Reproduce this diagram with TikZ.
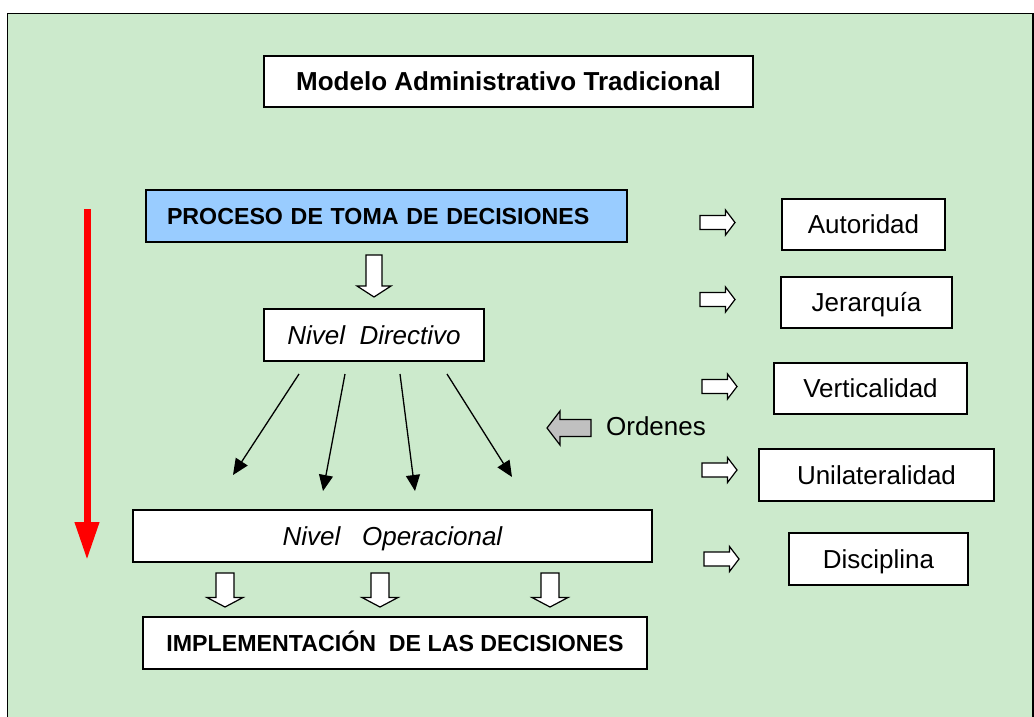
\documentclass[tikz,border=0pt]{standalone}
\usepackage{fontspec}
\setmainfont{Liberation Sans}
\usetikzlibrary{arrows.meta}
\definecolor{fondo}{RGB}{204,234,204}
\definecolor{celeste}{RGB}{153,204,255}
\definecolor{gris}{RGB}{192,192,192}

% flecha de bloque: largo / media cabeza / medio cuerpo / largo de la punta
\tikzset{
  pics/bloque/.style args={#1/#2/#3/#4}{
    code={\draw[line width=1.2pt, pic actions] (0,-#3) -- (#1-#4,-#3) -- (#1-#4,-#2) -- (#1,0)
      -- (#1-#4,#2) -- (#1-#4,#3) -- (0,#3) -- cycle;}}
}

\begin{document}
\begin{tikzpicture}[x=1pt, y=-1pt,
    caja/.style={draw, line width=1.5pt, fill=white, inner sep=0pt, text height=18.6pt, text depth=0pt, font=\fontsize{26}{31}\selectfont},
    negrita/.style={text height=16.7pt, font=\bfseries\fontsize{23.2}{28}\selectfont},
    cursiva/.style={font=\itshape\fontsize{26}{31}\selectfont},
    flecha/.style={-{Triangle[length=16pt,width=14pt]}, line width=1.3pt}]
  \useasboundingbox (0,0) rectangle (1034,716);
  \draw[fill=fondo, line width=1.5pt] (7.5,13.5) rectangle (1033,740);

  % cajas centrales
  \node[caja, minimum width=489, minimum height=51, font=\bfseries\fontsize{26}{31}\selectfont] (titulo) at (508.5,81.5) {Modelo Administrativo Tradicional};
  \node[caja, negrita, fill=celeste, minimum width=481, minimum height=52, text width=439, align=left, inner xsep=21pt] (proceso) at (386.5,216) {PROCESO DE TOMA DE DECISIONES};
  \node[caja, cursiva, minimum width=220, minimum height=52] (directivo) at (374,335) {Nivel\ \ Directivo};
  \node[caja, cursiva, minimum width=519, minimum height=52] (operacional) at (392.5,536) {Nivel\ \ \ Operacional};
  \node[caja, negrita, minimum width=504, minimum height=52] (implementacion) at (395,643) {IMPLEMENTACIÓN\ \ DE LAS DECISIONES};

  % caracteristicas
  \node[caja, minimum width=163, minimum height=51] (autoridad) at (863.5,224.5) {Autoridad};
  \node[caja, minimum width=171, minimum height=51] (jerarquia) at (866.5,302.5) {Jerarquía};
  \node[caja, minimum width=193, minimum height=51] (verticalidad) at (870.5,388.5) {Verticalidad};
  \node[caja, minimum width=235, minimum height=52] (unilateralidad) at (876.5,475) {Unilateralidad};
  \node[caja, minimum width=179, minimum height=52] (disciplina) at (878.5,559) {Disciplina};

  \pic[fill=white] (fa) at (700,222.5) {bloque=35/12.5/7/9.5};
  \pic[fill=white] (fj) at (700,299.5) {bloque=35/12.5/7/9.5};
  \pic[fill=white] (fv) at (702,386.5) {bloque=35/12.5/7/9.5};
  \pic[fill=white] (fu) at (702,470) {bloque=35/12.5/7/9.5};
  \pic[fill=white] (fd) at (704,559) {bloque=35/12.5/7/9.5};

  % ordenes
  \pic[fill=gris, rotate=180] (fordenes) at (591,428) {bloque=44/17/8.5/13};
  \node[anchor=base, font=\fontsize{26}{31}\selectfont] (ordenes) at (656,435) {Ordenes};

  % flechas de bloque hacia abajo
  \pic[fill=white, rotate=-90] (fproceso) at (374,255) {bloque=42/17/8/11};
  \pic[fill=white, rotate=-90] (fop1) at (225,573) {bloque=34/18/9/9.5};
  \pic[fill=white, rotate=-90] (fop2) at (380,573) {bloque=34/18/9/9.5};
  \pic[fill=white, rotate=-90] (fop3) at (550,573) {bloque=34/18/9/9.5};

  % flechas de ordenes
  \coordinate (d1) at (299,374);
  \coordinate (d2) at (345,374);
  \coordinate (d3) at (400,374);
  \coordinate (d4) at (447,374);
  \coordinate (o1) at (233,475);
  \coordinate (o2) at (323,491);
  \coordinate (o3) at (415,491);
  \coordinate (o4) at (512,477);
  \foreach \i in {1,...,4}
    \draw[flecha] (d\i) -- (o\i);

  % flecha roja
  \coordinate (rojoA) at (87,209);
  \coordinate (rojoB) at (87,560);
  \draw[red, line width=7pt, -{Triangle[length=38pt,width=23pt]}] (rojoA) -- (rojoB);
\end{tikzpicture}
\end{document}
